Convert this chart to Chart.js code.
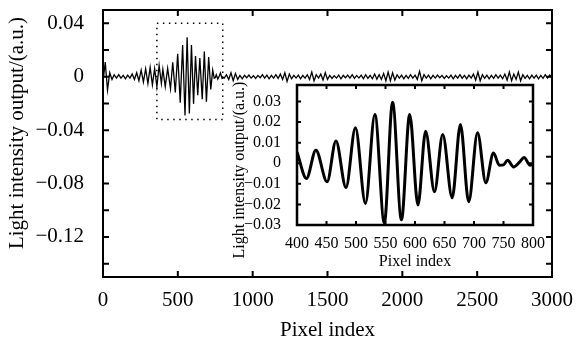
<!DOCTYPE html>
<html>
<head>
<meta charset="utf-8">
<script src="https://cdn.jsdelivr.net/npm/chart.js@4.4.0/dist/chart.umd.min.js"></script>
<style>
body { margin: 0; background: #fff; }
#wrap { position: relative; width: 576px; height: 341px; }
#main { position: absolute; left: 0; top: 0; }
#inset { position: absolute; left: 225px; top: 78px; }
</style>
</head>
<body>
<div id="wrap">
<canvas id="main" width="576" height="341"></canvas>
<canvas id="inset" width="323" height="192"></canvas>
</div>
<script>
"use strict";

// noise before the packet, pixel index 0..390 every 15
var noiseStep = 15;
var noiseLeftStart = 0;
var noiseLeft = [-0.004, 0.011, -0.010, 0.003, -0.002, 0.0015, -0.001, 0.0015, -0.001, 0.001,
	-0.0015, 0.0012, -0.001, 0.002, -0.002, 0.003, -0.003, 0.005, -0.004, 0.006,
	-0.005, 0.007, -0.006, 0.006, -0.0075, 0.0085, -0.005];

// wave packet (peaks / troughs)
var packetX = [400, 416, 432, 451, 466, 483, 499, 516, 532, 548, 562, 577, 591, 605, 618, 633,
	647, 663, 677, 691, 706, 720, 733, 743, 750, 757, 767, 777, 785, 795, 800];
var packetY = [0.0055, -0.0074, 0.0063, -0.009, 0.0108, -0.0118, 0.0172, -0.0195, 0.0237, -0.029,
	0.0296, -0.0275, 0.0237, -0.0203, 0.0155, -0.0138, 0.014, -0.0168, 0.0188, -0.0187,
	0.0148, -0.0095, 0.005, -0.001, -0.0008, 0.0015, -0.0018, 0.0005, 0.0028, -0.001, -0.0002];

// noise after the packet, pixel index 810..3000 every 15
var noiseRightStart = 810;
var noiseRight = [-0.001, 0.0015, -0.002, 0.003, -0.003, 0.0025, -0.002, 0.001, -0.0015, 0.001,
	-0.0008, 0.0012, -0.001, 0.0008, -0.0012, 0.001, -0.0008, 0.0015, -0.001, 0.0012,
	-0.0015, 0.001, -0.001, 0.0015, -0.0012, 0.002, -0.002, 0.003, -0.0035, 0.002,
	-0.0015, 0.001, -0.001, 0.0012, -0.0015, 0.001, -0.001, 0.0015, -0.002, 0.0035,
	-0.003, 0.0015, -0.001, 0.002, -0.0025, 0.003, -0.002, 0.001, -0.0012, 0.0008,
	-0.001, 0.0012, -0.0015, 0.001, -0.0008, 0.0012, -0.001, 0.0015, -0.0012, 0.001,
	-0.001, 0.0012, -0.0015, 0.0015, -0.0012, 0.001, -0.0015, 0.002, -0.0018, 0.0015,
	-0.002, 0.0025, -0.003, 0.0035, -0.003, 0.003, -0.0025, 0.0015, -0.001, 0.0012,
	-0.0015, 0.001, -0.0012, 0.0015, -0.001, 0.0012, -0.002, 0.004, -0.003, 0.0015,
	-0.001, 0.0012, -0.0015, 0.001, -0.001, 0.0012, -0.0008, 0.001, -0.0012, 0.0008,
	-0.001, 0.0012, -0.0015, 0.001, -0.001, 0.0015, -0.0012, 0.001, -0.0015, 0.0012,
	-0.001, 0.002, -0.0025, 0.0035, -0.003, 0.0015, -0.0012, 0.0012, -0.0015, 0.001,
	-0.0012, 0.0015, -0.001, 0.0012, -0.0015, 0.002, -0.0025, 0.0035, -0.003, 0.002,
	-0.002, 0.0035, -0.003, 0.0015, -0.0012, 0.001, -0.0015, 0.0012, -0.001, 0.0012,
	-0.0015, 0.001, -0.0012, 0.0015, -0.001, 0.0012, -0.0008];

// ticks
var mainYTicks = [-0.14, -0.12, -0.10, -0.08, -0.06, -0.04, -0.02, 0, 0.02, 0.04];
var mainYLabels = ['', '\u22120.12', '', '\u22120.08', '', '\u22120.04', '', '0', '', '0.04'];
var insetYTicks = [-0.03, -0.02, -0.01, 0, 0.01, 0.02, 0.03];
var insetYLabels = ['\u22120.03', '\u22120.02', '\u22120.01', '0', '0.01', '0.02', '0.03'];

// dotted box marking the zoomed region
var zoomBox = { x0: 360, x1: 800, y0: -0.032, y1: 0.04 };

var serif = "'Liberation Serif', 'DejaVu Serif', serif";

function $each(arr, fn) { for (var i = 0; i < arr.length; i++) fn(i, arr[i]); }

function buildMainData() {
	var pts = [];
	$each(noiseLeft, function (i, v) { pts.push({ x: noiseLeftStart + i * noiseStep, y: v }); });
	$each(packetX, function (i, x) { pts.push({ x: x, y: packetY[i] }); });
	$each(noiseRight, function (i, v) { pts.push({ x: noiseRightStart + i * noiseStep, y: v }); });
	return pts;
}

// keep the plot area where the layout padding puts it
function noEdgePad(s) {
	s.paddingTop = 0; s.paddingBottom = 0; s.paddingLeft = 0; s.paddingRight = 0;
}

// frame + inward ticks on all four sides
var frameTicks = {
	id: 'frameTicks',
	beforeDatasetsDraw: function (chart, args, opts) {
		if (!opts.fill) return;
		var a = chart.chartArea, ctx = chart.ctx;
		ctx.save();
		ctx.fillStyle = '#fff';
		ctx.fillRect(a.left, a.top, a.width, a.height);
		ctx.restore();
	},
	afterDraw: function (chart, args, opts) {
		var ctx = chart.ctx, a = chart.chartArea, sx = chart.scales.x, sy = chart.scales.y;
		ctx.save();
		ctx.strokeStyle = '#000';
		ctx.lineWidth = opts.tickWidth;
		ctx.beginPath();
		sx.ticks.forEach(function (t) {
			var px = sx.getPixelForValue(t.value);
			ctx.moveTo(px, a.bottom); ctx.lineTo(px, a.bottom - opts.len);
			ctx.moveTo(px, a.top); ctx.lineTo(px, a.top + opts.len);
		});
		sy.ticks.forEach(function (t) {
			var py = sy.getPixelForValue(t.value);
			ctx.moveTo(a.left, py); ctx.lineTo(a.left + opts.len, py);
			ctx.moveTo(a.right, py); ctx.lineTo(a.right - opts.len, py);
		});
		ctx.stroke();
		ctx.lineWidth = opts.frameWidth;
		ctx.strokeRect(a.left, a.top, a.width, a.height);
		if (opts.box) {
			var b = opts.box;
			ctx.lineWidth = 1.5;
			ctx.setLineDash([1.5, 4.5]);
			ctx.strokeRect(sx.getPixelForValue(b.x0), sy.getPixelForValue(b.y1),
				sx.getPixelForValue(b.x1) - sx.getPixelForValue(b.x0),
				sy.getPixelForValue(b.y0) - sy.getPixelForValue(b.y1));
			ctx.setLineDash([]);
		}
		if (opts.yTitle) {
			ctx.fillStyle = '#000';
			ctx.font = opts.yTitle.size + 'px ' + serif;
			ctx.textAlign = 'center';
			ctx.textBaseline = 'middle';
			ctx.translate(opts.yTitle.x, opts.yTitle.y);
			ctx.rotate(-Math.PI / 2);
			ctx.fillText(opts.yTitle.text, 0, 0);
		}
		ctx.restore();
	}
};

new Chart(document.getElementById('main'), {
	type: 'line',
	data: {
		datasets: [{
			data: buildMainData(),
			borderColor: '#000',
			borderWidth: 1.3,
			pointRadius: 0,
			tension: 0
		}]
	},
	options: {
		responsive: false,
		animation: false,
		devicePixelRatio: 1,
		layout: { padding: { left: 0, right: 24, top: 10, bottom: 0 } },
		plugins: {
			legend: { display: false },
			tooltip: { enabled: false },
			frameTicks: {
				len: 6, tickWidth: 2, frameWidth: 2, box: zoomBox,
				yTitle: { text: 'Light intensity output/(a.u.)', x: 17, y: 133, size: 21 }
			}
		},
		scales: {
			x: {
				type: 'linear', min: 0, max: 3000,
				grid: { display: false },
				border: { display: false },
				ticks: {
					stepSize: 500, color: '#000', padding: 3, maxRotation: 0, autoSkip: false,
					font: { family: serif, size: 21 },
					callback: function (v) { return String(v); }
				},
				title: { display: true, text: 'Pixel index', color: '#000', padding: 0, font: { family: serif, size: 21, lineHeight: 1 } },
				afterFit: function (s) { s.height = 64; noEdgePad(s); }
			},
			y: {
				min: -0.15, max: 0.05,
				grid: { display: false },
				border: { display: false },
				afterBuildTicks: function (s) { s.ticks = mainYTicks.map(function (v) { return { value: v }; }); },
				ticks: {
					color: '#000', padding: 11, autoSkip: false, font: { family: serif, size: 21 },
					callback: function (v, i) { return mainYLabels[i]; }
				},
				afterFit: function (s) { s.width = 103; noEdgePad(s); }
			}
		}
	},
	plugins: [frameTicks]
});

new Chart(document.getElementById('inset'), {
	type: 'line',
	data: {
		datasets: [{
			data: packetX.map(function (x, i) { return { x: x, y: packetY[i] }; }),
			borderColor: '#000',
			borderWidth: 3,
			pointRadius: 0,
			cubicInterpolationMode: 'monotone'
		}]
	},
	options: {
		responsive: false,
		animation: false,
		devicePixelRatio: 1,
		layout: { padding: { left: 0, right: 15, top: 7, bottom: 0 } },
		plugins: {
			legend: { display: false },
			tooltip: { enabled: false },
			frameTicks: {
				len: 4, tickWidth: 2, frameWidth: 2.5, fill: true,
				yTitle: { text: 'Light intensity output/(a.u.)', x: 15, y: 92, size: 16 }
			}
		},
		scales: {
			x: {
				type: 'linear', min: 400, max: 800,
				grid: { display: false },
				border: { display: false },
				ticks: {
					stepSize: 50, color: '#000', padding: 1, maxRotation: 0, autoSkip: false,
					font: { family: serif, size: 16 },
					callback: function (v) { return String(v); }
				},
				title: { display: true, text: 'Pixel index', color: '#000', padding: 0, font: { family: serif, size: 16, lineHeight: 1 } },
				afterFit: function (s) { s.height = 45; noEdgePad(s); }
			},
			y: {
				min: -0.03, max: 0.038,
				grid: { display: false },
				border: { display: false },
				afterBuildTicks: function (s) { s.ticks = insetYTicks.map(function (v) { return { value: v }; }); },
				ticks: {
					color: '#000', padding: 8, autoSkip: false, font: { family: serif, size: 16 },
					callback: function (v, i) { return insetYLabels[i]; }
				},
				afterFit: function (s) { s.width = 72; noEdgePad(s); }
			}
		}
	},
	plugins: [frameTicks]
});
</script>
</body>
</html>
